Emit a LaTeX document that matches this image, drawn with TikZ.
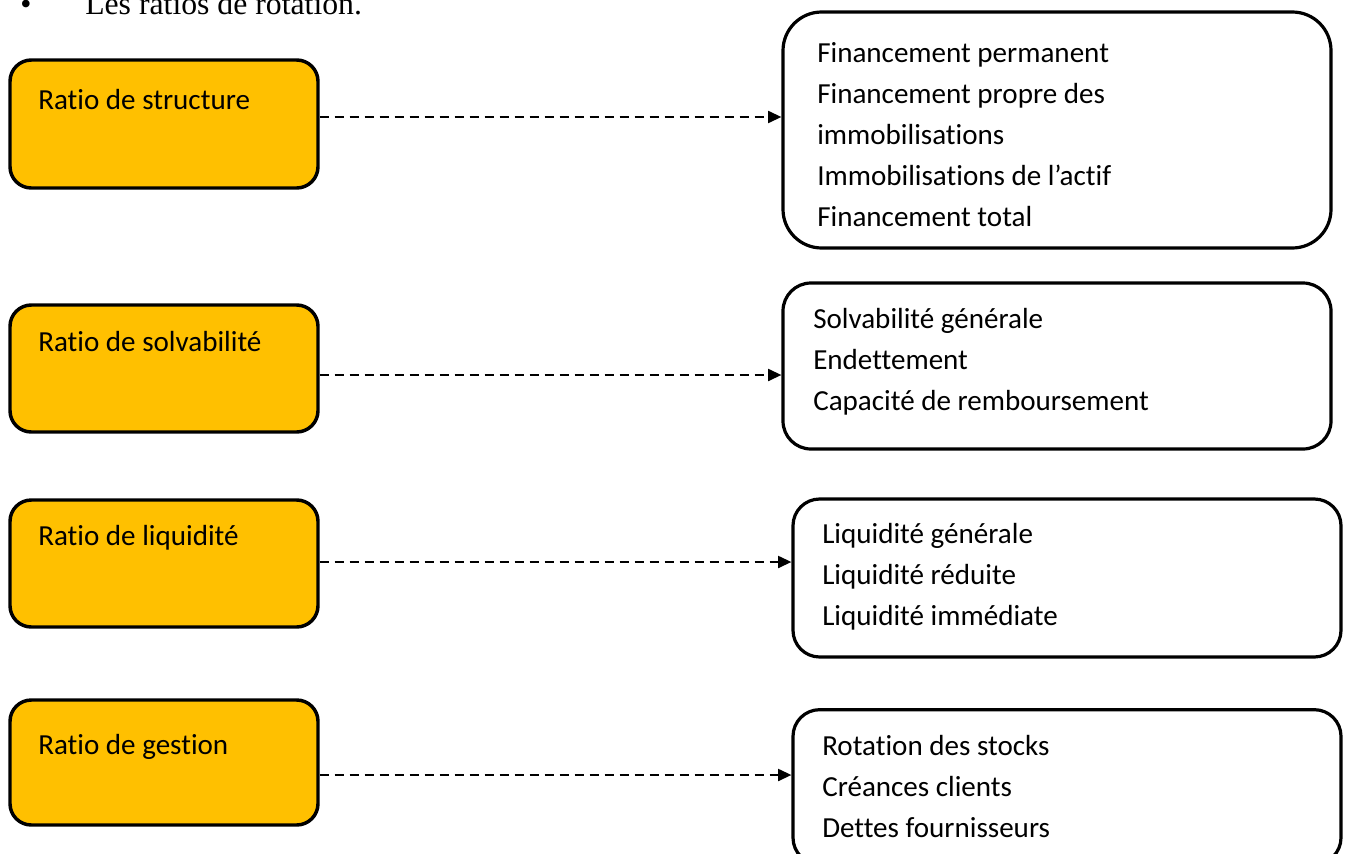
\documentclass[tikz,border=0pt]{standalone}
\usepackage{fontspec}
\setmainfont{Carlito}[Ligatures=NoCommon]
\newfontfamily\tnr{Liberation Serif}
\usetikzlibrary{arrows.meta}
\definecolor{orng}{HTML}{FFC000}
\begin{document}
\begin{tikzpicture}[x=0.75pt,y=-0.75pt,
  leftbox/.style={draw=black,line width=2.6pt,fill=orng,rounded corners=16pt,minimum width=231pt,inner sep=0pt},
  rightbox/.style={draw=black,line width=2.4pt,fill=white,rounded corners=20pt,minimum width=411pt,inner sep=0pt},
  lbl/.style={anchor=base west,inner sep=0pt,font=\fontsize{21.8}{30.75}\selectfont},
  items/.style={anchor=west,inner sep=0pt,align=left,font=\fontsize{21.8}{30.75}\selectfont},
  conn/.style={line width=1.6pt,dash pattern=on 6.75pt off 4.5pt,-{Triangle[length=10pt,width=9pt]}}
]
\useasboundingbox (0,0) rectangle (1345,853);
\clip (0,0) rectangle (1345,853);
% heading (clipped at top)
\node[anchor=base west,inner sep=0pt,font=\tnr\fontsize{23.8}{28}\selectfont] (bul) at (20,14) {•};
\node[anchor=base west,inner sep=0pt,font=\tnr\fontsize{23.8}{28}\selectfont] (head) at (85,14) {Les ratios de rotation.};
% left boxes
\node[leftbox,minimum height=96pt] (l1) at (164,124) {};
\node[leftbox,minimum height=95.25pt] (l2) at (164,368.5) {};
\node[leftbox,minimum height=95.25pt] (l3) at (164,563.5) {};
\node[leftbox,minimum height=93.75pt] (l4) at (164,762.5) {};
\node[lbl] (t1) at (38,109) {Ratio de structure};
\node[lbl] (t2) at (38,351) {Ratio de solvabilité};
\node[lbl] (t3) at (38,545) {Ratio de liquidité};
\node[lbl] (t4) at (38,754) {Ratio de gestion};
% right boxes
\node[rightbox,rounded corners=29pt,minimum height=177pt] (r1) at (1057,130) {};
\node[rightbox,rounded corners=21pt,minimum height=124.5pt] (r2) at (1057,366) {};
\node[rightbox,rounded corners=20pt,minimum height=118.5pt] (r3) at (1067,578) {};
\node[rightbox,rounded corners=20pt,minimum height=116pt] (r4) at (1067,787) {};
\node[items] (i1) at (817,135) {Financement permanent\\Financement propre des\\immobilisations\\Immobilisations de l’actif\\Financement total};
\node[items] (i2) at (813,362) {Solvabilité générale\\Endettement\\Capacité de remboursement};
\node[items] (i3) at (822,577) {Liquidité générale\\Liquidité réduite\\Liquidité immédiate};
\node[items] (i4) at (822,787) {Rotation des stocks\\Créances clients\\Dettes fournisseurs};
% connectors
\draw[conn] (l1.east |- 0,117) -- (r1.west |- 0,117);
\draw[conn] (l2.east |- 0,375) -- (r2.west |- 0,375);
\draw[conn] (l3.east |- 0,562) -- (r3.west |- 0,562);
\draw[conn] (l4.east |- 0,775) -- (r4.west |- 0,775);
\end{tikzpicture}
\end{document}
